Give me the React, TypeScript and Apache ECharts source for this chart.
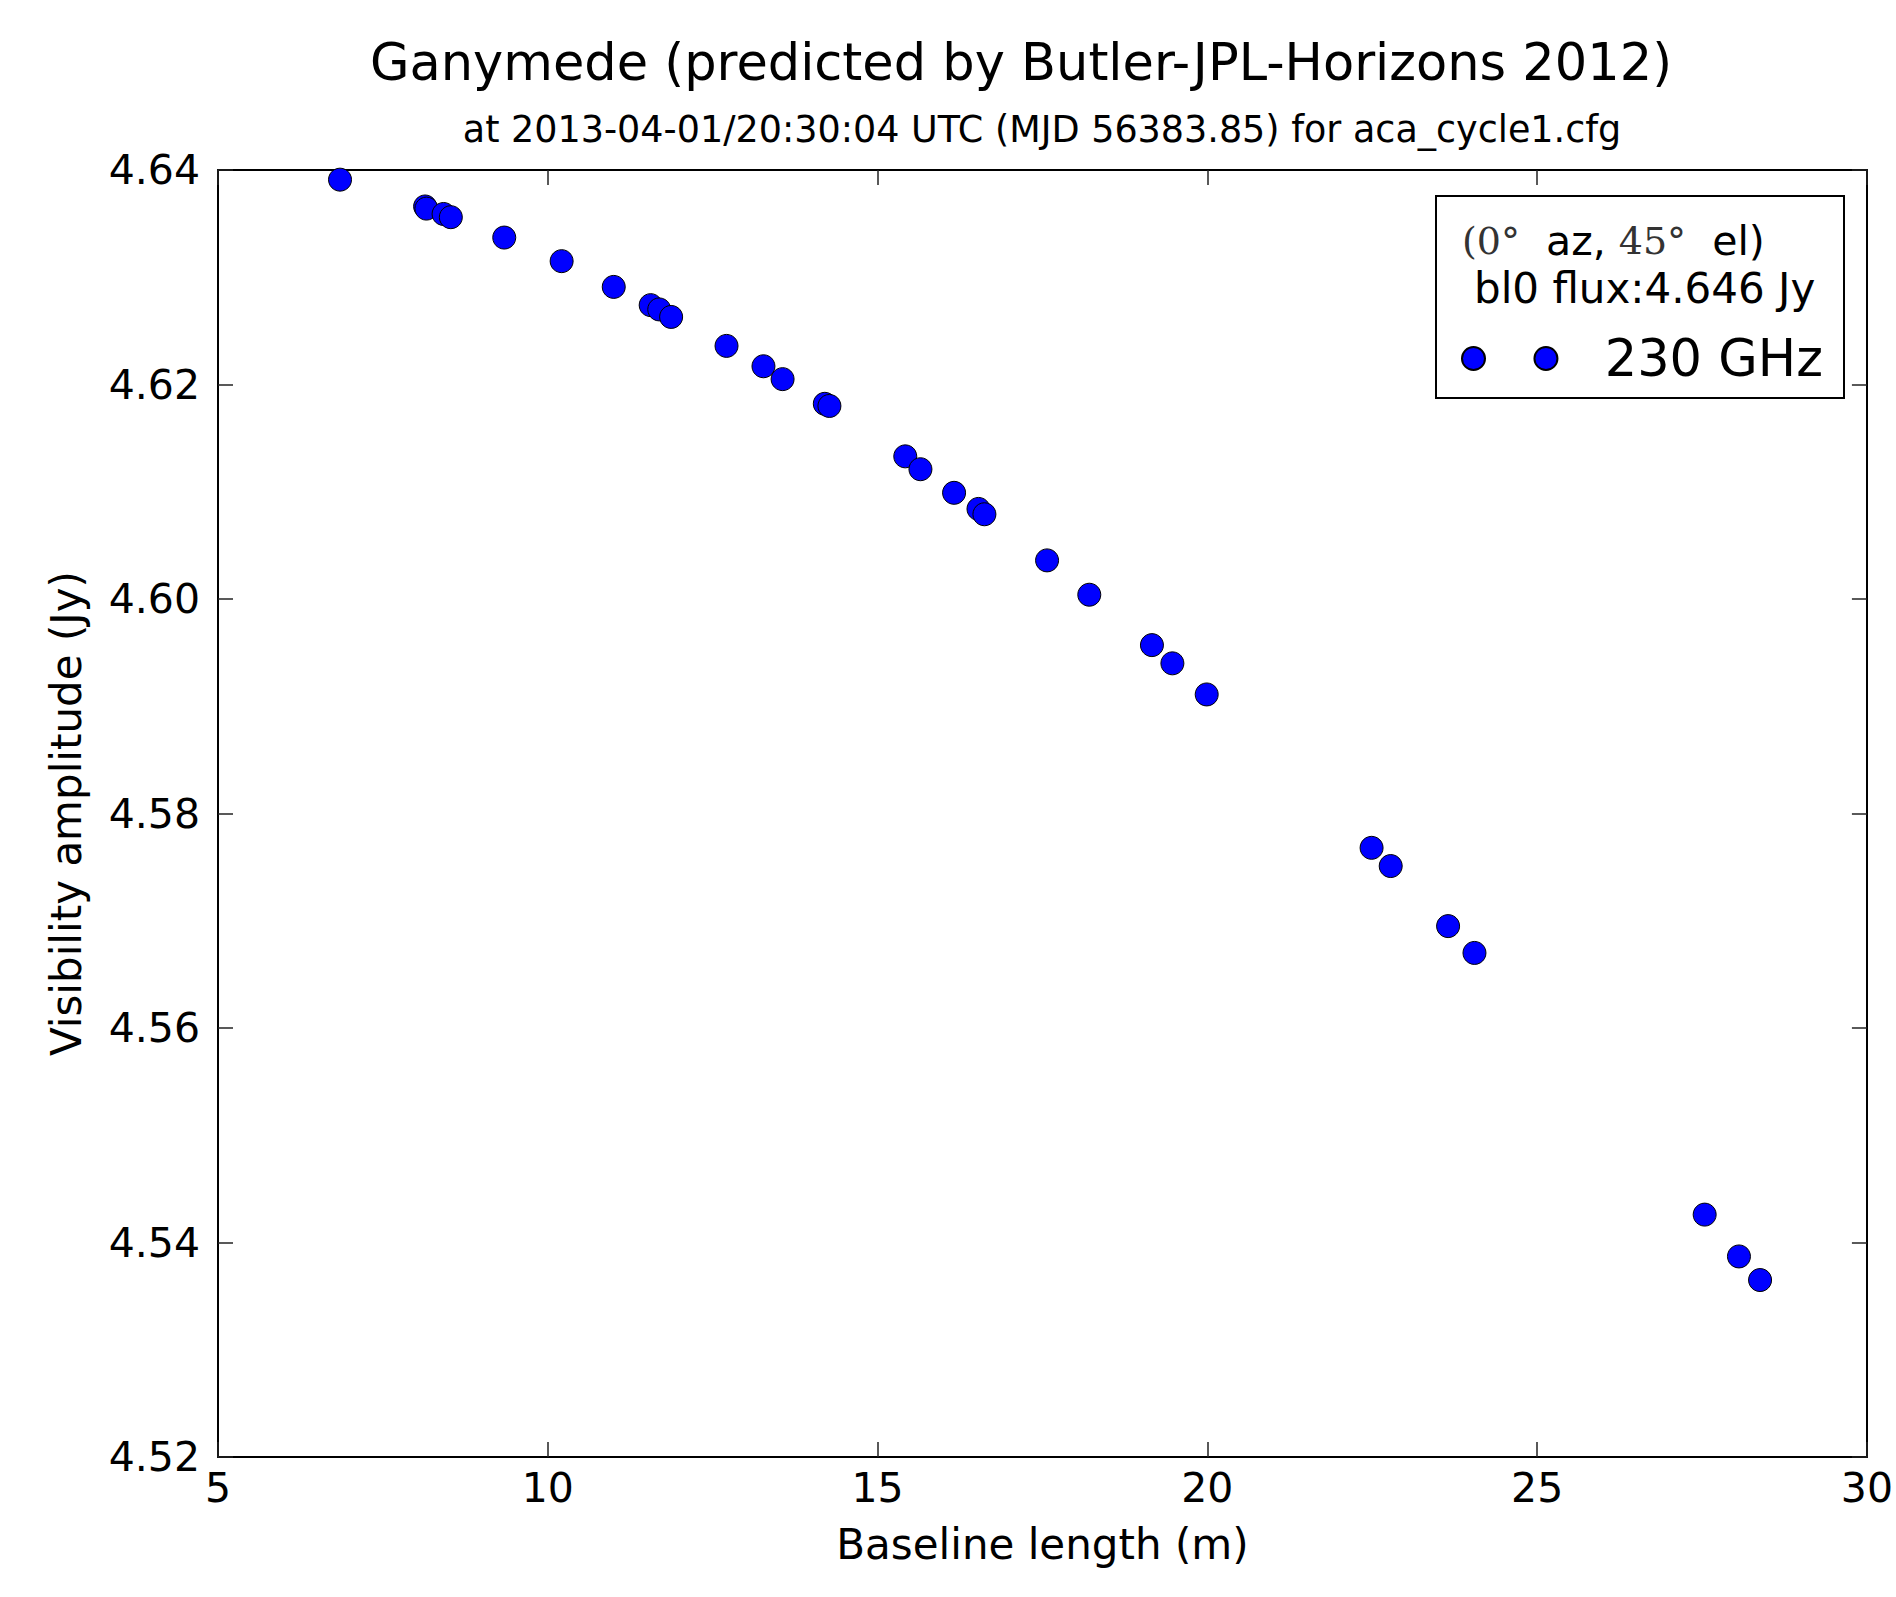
import React, { useEffect, useRef } from "react";
import * as echarts from "echarts";

const baselineLength = [
  6.85, 8.14, 8.16, 8.42, 8.53, 9.34, 10.21, 11.0, 11.56, 11.69, 11.87, 12.71,
  13.27, 13.56, 14.2, 14.27, 15.42, 15.65, 16.16, 16.53, 16.62, 17.57, 18.21,
  19.16, 19.47, 19.99, 22.49, 22.78, 23.65, 24.05, 27.54, 28.06, 28.38,
];
const visibilityAmp = [
  4.6391, 4.6366, 4.6364, 4.6359, 4.6356, 4.6337, 4.6315, 4.6291, 4.6274,
  4.627, 4.6263, 4.6236, 4.6217, 4.6205, 4.6182, 4.618, 4.6133, 4.6121,
  4.6099, 4.6084, 4.6079, 4.6036, 4.6004, 4.5957, 4.594, 4.5911, 4.5768,
  4.5751, 4.5695, 4.567, 4.5426, 4.5387, 4.5365,
];
const xTicks = { min: 5, max: 30, interval: 5 };
const yTicks = { min: 4.52, max: 4.64, interval: 0.02 };
const seriesName = "230 GHz";
const titleText = "Ganymede (predicted by Butler-JPL-Horizons 2012)";
const subtitleText = "at 2013-04-01/20:30:04 UTC (MJD 56383.85) for aca_cycle1.cfg";
const legendLine1 = "{m|(0°}{p|  az, }{m|45°}{p|  el)}";
const legendLine2 = "bl0 flux:4.646 Jy";

const FONT = "DejaVu Sans";

export default function App() {
  const ref = useRef<HTMLDivElement>(null);
  useEffect(() => {
    if (!ref.current) return;
    const chart = echarts.init(ref.current, null, { renderer: "svg" });
    const data = baselineLength.map((x, i) => [x, visibilityAmp[i]]);
    const axisLine = { show: true, onZero: false, lineStyle: { color: "#000", width: 2 } };
    const tick = { show: true, inside: true, length: 15, lineStyle: { color: "#222", width: 1.5 } };
    chart.setOption({
      animation: false,
      backgroundColor: "#fff",
      title: [
        {
          text: titleText,
          left: 1016,
          top: 32,
          textAlign: "center",
          textStyle: { fontFamily: FONT, fontSize: 51, fontWeight: "normal", color: "#000" },
        },
        {
          text: subtitleText,
          left: 1037,
          top: 106,
          textAlign: "center",
          textStyle: { fontFamily: FONT, fontSize: 36.5, fontWeight: "normal", color: "#000" },
        },
      ],
      grid: { left: 218, right: 27, top: 170, bottom: 140, containLabel: false },
      xAxis: [
        {
          type: "value",
          position: "bottom",
          ...xTicks,
          name: "Baseline length (m)",
          nameLocation: "middle",
          nameGap: 66,
          nameTextStyle: { fontFamily: FONT, fontSize: 42, color: "#000" },
          axisLine,
          axisTick: tick,
          splitLine: { show: false },
          axisLabel: { fontFamily: FONT, fontSize: 41, color: "#000", margin: 10 },
        },
        {
          type: "value",
          position: "top",
          ...xTicks,
          axisLine,
          axisTick: tick,
          splitLine: { show: false },
          axisLabel: { show: false },
        },
      ],
      yAxis: [
        {
          type: "value",
          position: "left",
          ...yTicks,
          name: "Visibility amplitude (Jy)",
          nameLocation: "middle",
          nameGap: 131,
          nameTextStyle: { fontFamily: FONT, fontSize: 42, color: "#000" },
          axisLine,
          axisTick: tick,
          splitLine: { show: false },
          axisLabel: {
            fontFamily: FONT,
            fontSize: 41,
            color: "#000",
            margin: 18,
            formatter: (v: number) => v.toFixed(2),
          },
        },
        {
          type: "value",
          position: "right",
          ...yTicks,
          axisLine,
          axisTick: tick,
          splitLine: { show: false },
          axisLabel: { show: false },
        },
      ],
      legend: {
        data: [seriesName],
        left: 1461,
        top: 333,
        padding: 0,
        icon: "path://M0,10A10,10 0 1,1 20,10A10,10 0 1,1 0,10Z M63,10A10,10 0 1,1 83,10A10,10 0 1,1 63,10Z",
        itemWidth: 96,
        itemHeight: 23,
        textStyle: { fontFamily: FONT, fontSize: 51, color: "#000", padding: [0, 0, 0, 42] },
      },
      graphic: [
        {
          type: "rect",
          shape: { x: 1436, y: 196, width: 408, height: 202 },
          style: { fill: "none", stroke: "#000", lineWidth: 2 },
          z: 100,
        },
        {
          type: "text",
          x: 1462,
          y: 241,
          style: {
            text: legendLine1,
            verticalAlign: "middle",
            fill: "#000",
            rich: {
              m: { fontFamily: "DejaVu Serif", fontSize: 38, fill: "#333" },
              p: { fontFamily: FONT, fontSize: 41, fill: "#000" },
            },
          },
          z: 100,
        },
        {
          type: "text",
          x: 1474,
          y: 288,
          style: {
            text: legendLine2,
            verticalAlign: "middle",
            fontFamily: FONT,
            fontSize: 42,
            fill: "#000",
          },
          z: 100,
        },
      ],
      series: [
        {
          name: seriesName,
          type: "scatter",
          data,
          symbol: "circle",
          symbolSize: 23,
          itemStyle: { color: "#0000ff", borderColor: "#000", borderWidth: 1, opacity: 1 },
          clip: false,
        },
      ],
    });
    return () => chart.dispose();
  }, []);
  return (
    <div
      ref={ref}
      style={{ position: "fixed", left: 0, top: 0, width: 1896, height: 1597, background: "#fff" }}
    />
  );
}
